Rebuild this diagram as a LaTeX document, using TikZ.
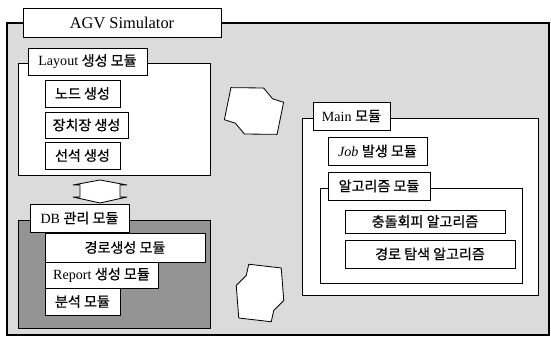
\documentclass[tikz,border=0pt]{standalone}
\usepackage{fontspec}
\setmainfont{Liberation Serif}
\newfontfamily\hangul[FakeBold=0.6]{Noto Sans CJK KR}
\newcommand{\hg}[1]{{\hangul #1}}
\usetikzlibrary{fit}

\tikzset{
  frame/.style={draw, line width=0.9pt, inner sep=0pt},
  panel/.style={draw, fill=white, line width=0.7pt, inner sep=0pt},
  box/.style={draw, fill=white, line width=0.7pt, inner sep=0pt,
    label={[font=\fontsize{12}{14}\selectfont]center:#1}},
  turn/.style={draw, fill=white, line width=0.7pt, line join=round},
}

\begin{document}
\begin{tikzpicture}[x=0.03cm, y=-0.03cm]
\useasboundingbox (0,0) rectangle (551,340);
% simulator frame
\node[frame, fill=black!14, fit={(7,23)(549,335)}] (sim) {};
\node[draw, fill=white, line width=0.7pt, inner sep=0pt, fit={(23,8)(221,37)},
  label={[font=\fontsize{14}{16}\selectfont]center:AGV Simulator}] (simTitle) {};

% layout module
\node[panel, fit={(18,63)(210,175)}] (layout) {};
\node[box={Layout \hg{생성 모듈}}, fit={(28,48)(147,75)}] (layoutTitle) {};
\node[box={\hg{노드 생성}}, fit={(45,80)(120,107)}] (nodeGen) {};
\node[box={\hg{장치장 생성}}, fit={(45,112)(128,138)}] (yardGen) {};
\node[box={\hg{선석 생성}}, fit={(45,142)(120,169)}] (berthGen) {};

% layout <-> db
\draw[turn] (100,180) -- (127,185) -- (120,185) -- (120,197) -- (127,197)
  -- (100,203) -- (73,197) -- (80,197) -- (80,185) -- (73,185) -- cycle;

% db module
\node[frame, line width=0.7pt, fill=black!42, fit={(18,220)(210,328)}] (db) {};
\node[box={DB \hg{관리 모듈}}, fit={(30,204)(129,232)}] (dbTitle) {};
\node[box={\hg{경로생성 모듈}}, fit={(45,233)(205,262)}] (pathGen) {};
\node[box={Report \hg{생성 모듈}}, fit={(45,262)(158,288)}] (report) {};
\node[box={\hg{분석 모듈}}, fit={(45,288)(120,315)}] (analysis) {};

% exchange arrows
\begin{scope}[shift={(254,111)}, x=0.75cm, y=0.75cm, rotate=85]
  \draw[turn] (-0.45,1.15) -- (0.85,1.0) -- (0.95,-0.3) -- (0.55,-0.7)
    -- (0.45,-1.15) -- (-0.85,-1.0) -- (-0.95,0.3) -- (-0.55,0.7) -- cycle;
\end{scope}
\begin{scope}[shift={(260,293)}, x=0.75cm, y=0.75cm]
  \draw[turn] (-0.45,1.15) -- (0.85,1.0) -- (0.95,-0.3) -- (0.55,-0.7)
    -- (0.45,-1.15) -- (-0.85,-1.0) -- (-0.95,0.3) -- (-0.55,0.7) -- cycle;
\end{scope}

% main module
\node[panel, fit={(302,118)(538,295)}] (main) {};
\node[box={Main \hg{모듈}}, fit={(313,102)(390,130)}] (mainTitle) {};
\node[box={\textit{Job} \hg{발생 모듈}}, fit={(328,137)(427,165)}] (job) {};
\node[panel, fit={(320,188)(522,283)}] (algo) {};
\node[box={\hg{알고리즘 모듈}}, fit={(328,172)(430,200)}] (algoTitle) {};
\node[box={\hg{충돌회피 알고리즘}}, fit={(345,210)(505,233)}] (avoid) {};
\node[box={\hg{경로 탐색 알고리즘}}, fit={(345,240)(515,268)}] (search) {};
\end{tikzpicture}
\end{document}
